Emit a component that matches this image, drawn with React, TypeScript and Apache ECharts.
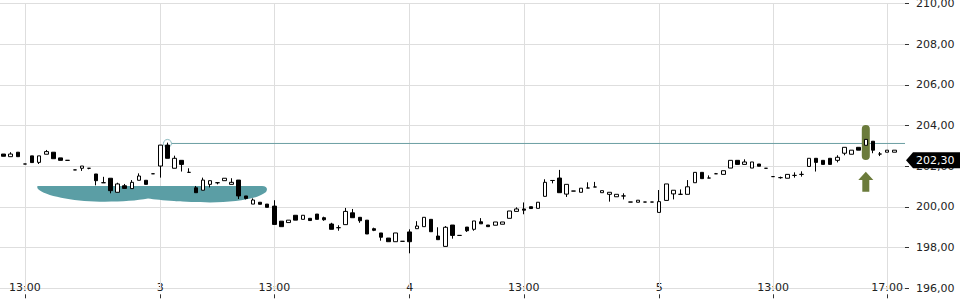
import { useEffect, useRef } from 'react';
import * as echarts from 'echarts';

// ---- time grid (15-minute bars, trading sessions) ----
const SESSIONS = [
  { day: 2, from: '12:15', to: '17:30' },
  { day: 3, from: '09:00', to: '17:30' },
  { day: 4, from: '09:00', to: '17:30' },
  { day: 5, from: '09:00', to: '17:15' },
];
const STEP_MIN = 15;

function buildCategories(): string[] {
  const out: string[] = [];
  for (const s of SESSIONS) {
    const [fh, fm] = s.from.split(':').map(Number);
    const [th, tm] = s.to.split(':').map(Number);
    for (let t = fh * 60 + fm; t <= th * 60 + tm; t += STEP_MIN) {
      const hh = String(Math.floor(t / 60)).padStart(2, '0');
      const mm = String(t % 60).padStart(2, '0');
      out.push(`${s.day} ${hh}:${mm}`);
    }
  }
  return out;
}
const CATEGORIES = buildCategories();
const PAD_CATEGORIES = [''];

const X_TICK_KEYS = ['2 13:00', '3 09:00', '3 13:00', '4 09:00', '4 13:00', '5 09:00', '5 13:00', '5 17:00'];
const X_TICK_TEXT = ['13:00', '3', '13:00', '4', '13:00', '5', '13:00', '17:00'];

const Y_MIN = 196;
const Y_MAX = 210;
const Y_STEP = 2;

// ---- OHLC values ----
const OPEN = [
  202.60, 202.47, 202.69, 202.11, 202.51, 202.19, 202.59, 202.69, 202.41, 202.29,
  201.82, 201.90, 201.90, 201.62, 201.19, 201.41, 200.72, 201.04, 200.90, 201.31,
  201.31, 201.63, 202.01, 203.04, 201.90, 202.29, 201.70, 200.94, 200.82, 201.11,
  201.19, 201.29, 201.11, 201.32, 200.54, 200.14, 200.23, 200.14, 200.04, 199.30,
  199.23, 199.59, 199.39, 199.44, 199.65, 199.47, 199.16, 198.98, 199.13, 199.71,
  199.49, 199.35, 198.93, 198.72, 198.47, 198.29, 198.31, 198.77, 198.93, 199.03,
  199.39, 198.57, 198.06, 199.11, 198.60, 199.01, 198.90, 199.27, 199.11, 199.10,
  199.15, 199.44, 199.78, 199.90, 200.01, 199.93, 200.52, 201.30, 201.42, 200.63,
  200.78, 200.72, 200.93, 200.98, 200.70, 200.62, 200.50, 200.54, 200.24, 200.23,
  200.24, 200.24, 199.73, 200.32, 200.64, 200.62, 200.62, 201.19, 201.70, 201.42,
  201.63, 201.60, 201.91, 202.29, 202.09, 201.91, 202.11, 201.90, 201.49, 201.44,
  201.41, 201.55, 201.60, 201.99, 202.39, 202.29, 202.39, 202.29, 202.64, 202.59,
  202.93, 203.03, 203.23, 202.60, 202.69, 202.69,
];
const CLOSE = [
  202.49, 202.60, 202.47, 202.11, 202.18, 202.51, 202.72, 202.37, 202.29, 202.29,
  201.82, 202.01, 201.90, 201.29, 201.19, 200.80, 201.13, 200.91, 201.21, 201.52,
  201.11, 201.63, 203.04, 202.39, 202.39, 202.09, 201.70, 200.70, 201.32, 201.29,
  201.19, 201.41, 201.21, 200.54, 200.42, 200.34, 200.13, 199.98, 199.14, 199.03,
  199.35, 199.35, 199.59, 199.33, 199.39, 199.37, 198.90, 198.98, 199.78, 199.47,
  199.32, 198.67, 198.85, 198.51, 198.29, 198.72, 198.31, 198.29, 199.06, 199.49,
  198.78, 198.39, 199.00, 198.60, 198.60, 198.83, 199.31, 199.17, 199.03, 199.26,
  199.26, 199.80, 199.90, 199.84, 199.92, 200.23, 201.21, 201.30, 200.70, 201.11,
  200.78, 200.92, 200.93, 200.98, 200.80, 200.72, 200.62, 200.54, 200.24, 200.33,
  200.24, 200.24, 200.26, 201.13, 200.82, 200.62, 200.99, 201.70, 201.39, 201.42,
  201.63, 201.78, 202.29, 202.09, 202.21, 202.21, 202.00, 201.90, 201.49, 201.44,
  201.60, 201.55, 201.60, 202.39, 202.19, 202.09, 202.09, 202.44, 202.93, 202.79,
  202.79, 203.32, 202.79, 202.60, 202.79, 202.79,
];
const LOW = [
  202.49, 202.47, 202.47, 202.11, 202.18, 202.11, 202.59, 202.37, 202.29, 202.29,
  201.82, 201.77, 201.85, 201.06, 201.19, 200.67, 200.72, 200.91, 200.90, 201.31,
  201.11, 201.63, 201.44, 202.39, 201.90, 201.74, 201.70, 200.70, 200.82, 200.96,
  201.11, 201.29, 201.11, 200.39, 200.37, 200.14, 200.13, 199.98, 199.14, 199.03,
  199.23, 199.35, 199.39, 199.33, 199.39, 199.32, 198.90, 198.83, 199.13, 199.47,
  199.22, 198.67, 198.81, 198.34, 198.29, 198.29, 198.31, 197.72, 198.93, 199.03,
  198.78, 198.39, 198.06, 198.44, 198.60, 198.77, 198.83, 199.17, 199.03, 199.10,
  199.15, 199.44, 199.78, 199.64, 199.92, 199.93, 200.52, 201.16, 200.70, 200.49,
  200.78, 200.72, 200.93, 200.98, 200.70, 200.26, 200.50, 200.37, 200.24, 200.23,
  200.24, 200.24, 199.73, 200.32, 200.37, 200.62, 200.62, 201.19, 201.39, 201.42,
  201.63, 201.60, 201.91, 202.09, 202.09, 201.91, 202.00, 201.90, 201.49, 201.39,
  201.41, 201.44, 201.49, 201.99, 201.74, 202.09, 202.09, 202.19, 202.54, 202.59,
  202.79, 203.03, 202.64, 202.50, 202.69, 202.69,
];
const HIGH = [
  202.60, 202.69, 202.69, 202.11, 202.51, 202.51, 202.80, 202.69, 202.41, 202.29,
  201.82, 202.01, 201.90, 201.62, 201.48, 201.41, 201.19, 201.13, 201.32, 201.65,
  201.31, 201.63, 203.04, 203.16, 202.52, 202.29, 201.90, 201.03, 201.44, 201.29,
  201.19, 201.41, 201.41, 201.32, 200.54, 200.42, 200.23, 200.14, 200.33, 199.30,
  199.35, 199.59, 199.59, 199.44, 199.65, 199.52, 199.22, 199.10, 199.95, 199.90,
  199.49, 199.35, 198.98, 198.72, 198.47, 198.72, 198.31, 198.90, 199.30, 199.49,
  199.39, 199.00, 199.06, 199.11, 198.60, 199.01, 199.31, 199.45, 199.11, 199.26,
  199.26, 199.80, 199.98, 200.22, 200.01, 200.23, 201.36, 201.30, 201.82, 201.11,
  200.78, 200.92, 201.21, 201.23, 200.80, 200.72, 200.62, 200.67, 200.24, 200.33,
  200.24, 200.24, 200.83, 201.13, 200.82, 200.86, 201.32, 201.70, 201.70, 201.55,
  201.67, 201.78, 202.29, 202.29, 202.34, 202.21, 202.11, 201.90, 201.49, 201.49,
  201.60, 201.70, 201.75, 202.39, 202.39, 202.29, 202.39, 202.54, 202.93, 202.79,
  202.93, 203.32, 203.23, 202.70, 202.79, 202.79,
];

const LAST_PRICE = 202.3;

// ---- drawn annotations, anchored in [bar index, price] ----
const RAY = { index: 23, price: 203.12 };
const PILL = { index: 121, top: 204.03, bottom: 202.31 };
const ARROW = { index: 121, tip: 201.73, base: 200.75 };
const TEAL_PATH: (string | number)[][] = [
  ['M', 4.83, 201.03],
  ['L', 36.27, 201.03],
  ['C', 36.97, 201.03, 37.11, 200.88, 36.83, 200.73],
  ['C', 35.71, 200.39, 32.48, 200.22, 28.97, 200.22],
  ['C', 25.46, 200.22, 21.95, 200.32, 20.27, 200.41],
  ['C', 18.59, 200.30, 16.34, 200.25, 13.53, 200.26],
  ['C', 9.60, 200.28, 5.82, 200.54, 4.83, 200.88],
  ['C', 4.69, 200.93, 4.69, 201.03, 4.83, 201.03],
  ['Z'],
];

const FONT = 'DejaVu Sans';
const fmtPrice = (v: number) => v.toFixed(2).replace('.', ',');

export default function App() {
  const ref = useRef<HTMLDivElement>(null);

  useEffect(() => {
    if (!ref.current) return;
    const chart = echarts.init(ref.current, undefined, { renderer: 'svg' });
    const isTick = (_i: number, value: string) => X_TICK_KEYS.indexOf(value) >= 0;

    const option: any = {
      animation: false,
      grid: { left: 0, right: 55, top: 3.5, bottom: 11.7, containLabel: false, outerBoundsMode: 'none' },
      xAxis: {
        type: 'category',
        data: [...CATEGORIES, ...PAD_CATEGORIES],
        boundaryGap: true,
        offset: 6,
        axisLine: { show: false },
        axisTick: { show: true, alignWithLabel: true, length: 4, interval: isTick, lineStyle: { color: '#333', width: 1 } },
        axisLabel: {
          show: true,
          interval: isTick,
          formatter: (v: string) => {
            const k = X_TICK_KEYS.indexOf(v);
            return k >= 0 ? X_TICK_TEXT[k] : '';
          },
          margin: -6.5,
          verticalAlign: 'middle',
          color: '#222',
          fontFamily: FONT,
          fontSize: 11,
        },
        splitLine: { show: false },
      },
      yAxis: {
        type: 'value',
        position: 'right',
        min: Y_MIN,
        max: Y_MAX,
        interval: Y_STEP,
        axisLine: { show: false },
        axisTick: { show: true, length: 4, lineStyle: { color: '#333', width: 1 } },
        axisLabel: { margin: 11, formatter: (v: number) => fmtPrice(v), color: '#222', fontFamily: FONT, fontSize: 11 },
        splitLine: { show: true, lineStyle: { color: '#dedede', width: 1 } },
      },
      series: [
        {
          type: 'candlestick',
          name: 'Kurs',
          z: 2,
          barWidth: 4,
          data: OPEN.map((o, i) => [o, CLOSE[i], LOW[i], HIGH[i]]),
          itemStyle: {
            color: '#ffffff',
            color0: '#000000',
            borderColor: '#000000',
            borderColor0: '#000000',
            borderColorDoji: '#000000',
            borderWidth: 1,
          },
          markLine: {
            silent: true,
            z: 1,
            symbol: ['none', 'none'],
            label: { show: false },
            lineStyle: { color: '#dedede', type: 'solid', width: 1 },
            emphasis: { disabled: true },
            data: X_TICK_KEYS.map((k) => ({ xAxis: k })),
          },
        },
        {
          type: 'custom',
          name: 'annotations',
          z: 1,
          clip: false,
          silent: true,
          data: [[0, LAST_PRICE]],
          renderItem: (params: any, api: any) => {
            const bw = api.size([1, 0])[0];
            const pt = (i: number, v: number) => {
              const i0 = Math.floor(i);
              const p = api.coord([i0, v]);
              return [p[0] + (i - i0) * bw, p[1]];
            };
            const cs = params.coordSys;
            const right = cs.x + cs.width;
            // teal marker shape
            let d = '';
            for (const seg of TEAL_PATH) {
              const cmd = seg[0] as string;
              if (cmd === 'Z') { d += 'Z'; continue; }
              d += cmd;
              for (let k = 1; k < seg.length; k += 2) {
                const p = pt(seg[k] as number, seg[k + 1] as number);
                d += ` ${p[0].toFixed(2)} ${p[1].toFixed(2)}`;
              }
              d += ' ';
            }
            const ray = pt(RAY.index, RAY.price);
            const pTop = pt(PILL.index, PILL.top);
            const pBot = pt(PILL.index, PILL.bottom);
            const aTip = pt(ARROW.index, ARROW.tip);
            const aBase = pt(ARROW.index, ARROW.base);
            const cx = aTip[0];
            const yHead = aTip[1] + 8.3;
            return {
              type: 'group',
              children: [
                { type: 'path', shape: { pathData: d }, style: { fill: '#5b9ea5' } },
                {
                  type: 'line',
                  shape: { x1: ray[0] + 4, y1: ray[1], x2: right, y2: ray[1] },
                  style: { stroke: '#6b9ea3', lineWidth: 1 },
                },
                {
                  type: 'circle',
                  shape: { cx: ray[0], cy: ray[1], r: 4 },
                  style: { fill: 'none', stroke: '#86b6bb', lineWidth: 1 },
                },
                {
                  type: 'rect',
                  shape: { x: pTop[0] - 4, y: pTop[1], width: 8, height: pBot[1] - pTop[1], r: 4 },
                  style: { fill: '#6b7b3b' },
                },
                {
                  type: 'polygon',
                  shape: {
                    points: [
                      [cx, aTip[1]],
                      [cx + 7.5, yHead],
                      [cx + 3.5, yHead],
                      [cx + 3.5, aBase[1]],
                      [cx - 3.5, aBase[1]],
                      [cx - 3.5, yHead],
                      [cx - 7.5, yHead],
                    ],
                  },
                  style: { fill: '#6b7b3b' },
                },
              ],
            };
          },
        },
        {
          type: 'custom',
          name: 'lastPrice',
          z: 10,
          clip: false,
          silent: true,
          data: [[0, LAST_PRICE]],
          renderItem: (params: any, api: any) => {
            const cs = params.coordSys;
            const tip = cs.x + cs.width + 1;
            const y = api.coord([0, LAST_PRICE])[1];
            return {
              type: 'group',
              children: [
                {
                  type: 'polygon',
                  shape: {
                    points: [
                      [tip, y],
                      [tip + 7, y - 8],
                      [960, y - 8],
                      [960, y + 8],
                      [tip + 7, y + 8],
                    ],
                  },
                  style: { fill: '#000000' },
                },
                {
                  type: 'text',
                  style: {
                    text: fmtPrice(LAST_PRICE),
                    x: tip + 10,
                    y: y,
                    fill: '#ffffff',
                    fontSize: 11,
                    fontFamily: FONT,
                    align: 'left',
                    verticalAlign: 'middle',
                  },
                },
              ],
            };
          },
        },
      ],
    };

    chart.setOption(option);
    return () => chart.dispose();
  }, []);

  return (
    <div
      ref={ref}
      style={{ position: 'fixed', left: 0, top: 0, width: 960, height: 300, background: '#ffffff' }}
    />
  );
}
